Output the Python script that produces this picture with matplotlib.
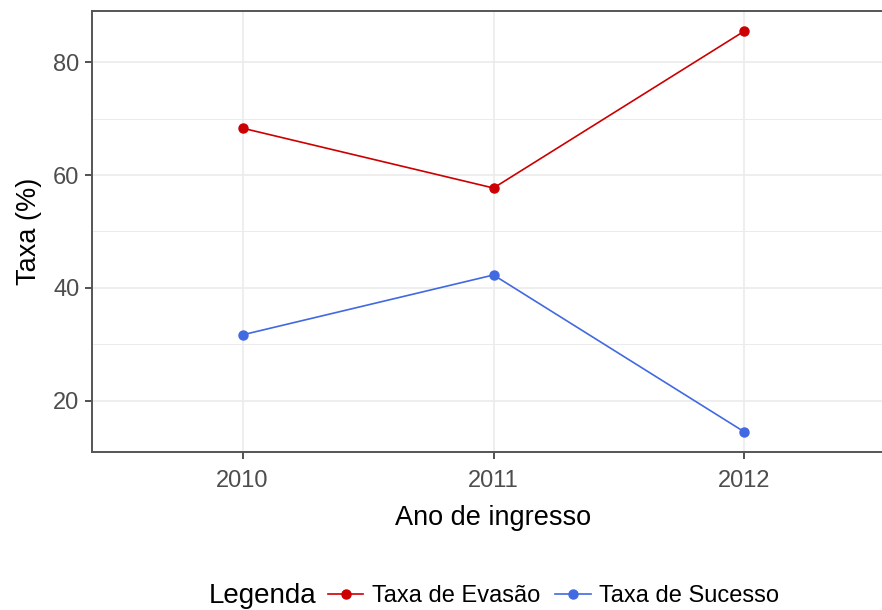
import matplotlib.pyplot as plt
from matplotlib.lines import Line2D

plt.rcParams['font.family'] = ['Liberation Sans', 'DejaVu Sans']

# data
anos = [2010, 2011, 2012]
taxa_evasao = [68.3, 57.7, 85.5]
taxa_sucesso = [31.7, 42.3, 14.5]
series_labels = ['Taxa de Evasão', 'Taxa de Sucesso']
cores = ['#CC0000', '#4169E1']

fig = plt.figure(figsize=(8.82, 6.10), dpi=100)
# panel runs past the right edge, as in the original export
ax = fig.add_axes([92 / 882, 1 - 452 / 610, (895 - 92) / 882, 441 / 610])

ax.plot(anos, taxa_evasao, color=cores[0], lw=1.2, marker='o', ms=6.5, zorder=3)
ax.plot(anos, taxa_sucesso, color=cores[1], lw=1.2, marker='o', ms=6.5, zorder=3)

ax.set_xlim(2009.4, 2012.6)
ax.set_ylim(10.95, 89.05)
ax.set_xticks(anos)
ax.set_xticklabels([str(a) for a in anos])
ax.set_yticks([20, 40, 60, 80])
ax.set_yticks([30, 50, 70], minor=True)
ax.grid(True, which='major', color='#EBEBEB', lw=1.2, zorder=0)
ax.grid(True, which='minor', axis='y', color='#EBEBEB', lw=0.7, zorder=0)
ax.tick_params(axis='both', which='major', length=5, width=1.2, color='#333333',
               labelsize=17, labelcolor='#4D4D4D', pad=4)
ax.tick_params(axis='x', which='major', pad=8)
ax.tick_params(axis='y', which='minor', length=0)
for s in ax.spines.values():
    s.set_color('#555555')
    s.set_linewidth(1.4)

ax.set_xlabel('Ano de ingresso', fontsize=19.5, labelpad=9)
ax.set_ylabel('Taxa (%)', fontsize=19.5, labelpad=8)

# legend at the bottom with its title on the left
handles = [Line2D([], [], color=c, lw=1.2, marker='o', ms=6.5) for c in cores]
leg = fig.legend(handles, series_labels, ncol=2, loc='center left',
                 bbox_to_anchor=(328 / 882, 1 - 596 / 610), frameon=False,
                 fontsize=17, handlelength=1.5, handletextpad=0.35,
                 columnspacing=0.65, borderpad=0, borderaxespad=0)
fig.text(209 / 882, 1 - 596 / 610, 'Legenda', fontsize=20, va='center', ha='left')

fig.savefig('out.png', dpi=100)
